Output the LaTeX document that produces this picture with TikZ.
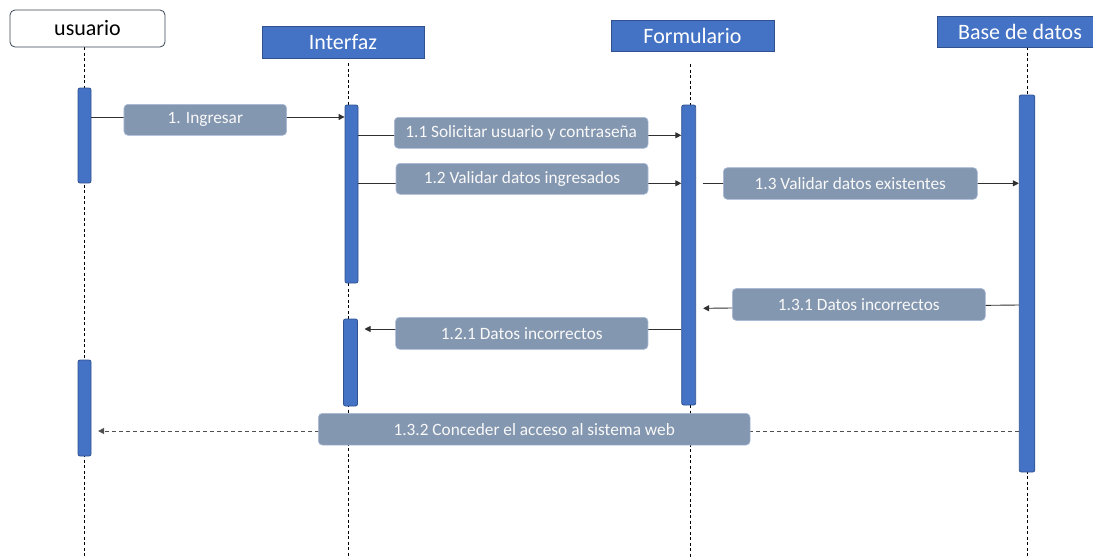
\documentclass[tikz,border=0pt]{standalone}
\usepackage{fontspec}
\setmainfont{Carlito}
\usetikzlibrary{arrows.meta,backgrounds}
\definecolor{hblue}{HTML}{4472C4}
\definecolor{hborder}{HTML}{2F528F}
\definecolor{lgray}{HTML}{8497B0}
\definecolor{lborder}{HTML}{A9B9D6}
\definecolor{uborder}{HTML}{3A4656}
\definecolor{msgline}{HTML}{303030}
\tikzset{
  header/.style={draw=hborder, line width=0.8pt, fill=hblue, text=white, inner sep=0pt, font=\fontsize{22}{26}\selectfont},
  actor/.style={draw=uborder, line width=0.8pt, fill=white, rounded corners=5pt, inner sep=0pt, font=\fontsize{22}{26}\selectfont},
  actbar/.style={draw=hborder, line width=0.8pt, fill=hblue, rounded corners=2pt, inner sep=0pt},
  msglabel/.style={draw=lborder, line width=0.6pt, fill=lgray, text=white!95!gray, rounded corners=4pt, inner sep=0pt, font=\fontsize{17.3}{20}\selectfont},
  lifeline/.style={draw=black, line width=0.8pt, dash pattern=on 3pt off 2.5pt},
  msg/.style={draw=msgline, line width=0.9pt, -{Triangle[length=6pt,width=6pt]}},
  retmsg/.style={draw=msgline!85, line width=0.9pt, dash pattern=on 4pt off 3pt, -{Triangle[length=6pt,width=6pt]}}
}
\begin{document}
\begin{tikzpicture}[x=1pt,y=-1pt]
\useasboundingbox (0,0) rectangle (1093,558);
% headers
\node[actor, minimum width=155pt, minimum height=37pt] (usr) at (87.5,28.5) {usuario};
\node[header, minimum width=162pt, minimum height=32pt] (inf) at (343,42) {Interfaz};
\node[header, minimum width=163pt, minimum height=31pt] (frm) at (692.5,35.5) {Formulario};
\node[header, minimum width=166pt, minimum height=31pt] (bdd) at (1020,31.5) {Base de datos};
% lifeline ends
\coordinate (usrS) at (84,47);
\coordinate (usrE) at (84,558);
\coordinate (infS) at (348,63);
\coordinate (infE) at (348,558);
\coordinate (frmS) at (690,64);
\coordinate (frmE) at (690,558);
\coordinate (bddS) at (1027,47);
\coordinate (bddE) at (1027,558);
% activation bars
\node[actbar, minimum width=13pt, minimum height=95pt] (ub1) at (84.5,135.5) {};
\node[actbar, minimum width=13pt, minimum height=96pt] (ub2) at (84.5,408) {};
\node[actbar, minimum width=13pt, minimum height=178pt] (ib1) at (351.5,194) {};
\node[actbar, minimum width=14pt, minimum height=87pt] (ib2) at (350.5,362.5) {};
\node[actbar, minimum width=14pt, minimum height=300pt] (fb) at (688.7,255) {};
\node[actbar, minimum width=15.5pt, minimum height=377pt] (db) at (1027,283.5) {};
% lifelines behind
\begin{scope}[on background layer]
\draw[lifeline] (usrS) -- (usrE);
\draw[lifeline] (infS) -- (infE);
\draw[lifeline] (frmS) -- (frmE);
\draw[lifeline] (bddS) -- (bddE);
\end{scope}
% message heights
\coordinate (y1) at (0,117);
\coordinate (y11) at (0,135.3);
\coordinate (y12) at (0,183.3);
\coordinate (y13) at (0,183.3);
\coordinate (y131a) at (0,305);
\coordinate (y131b) at (0,308.3);
\coordinate (y121) at (0,329);
\coordinate (y132) at (0,431);
% messages
\draw[msg] (ub1.east |- y1) -- (ib1.west |- y1);
\draw[msg] (ib1.east |- y11) -- (fb.west |- y11);
\draw[msg] (ib1.east |- y12) -- (fb.west |- y12);
\draw[msg] ([xshift=6.5pt]fb.east |- y13) -- (db.west |- y13);
\draw[msg] (db.west |- y131a) -- ([xshift=7pt]fb.east |- y131b);
\draw[msg] (fb.west |- y121) -- ([xshift=6.6pt]ib2.east |- y121);
\draw[retmsg] (db.west |- y132) -- ([xshift=6.7pt]ub2.east |- y132);
% labels
\node[msglabel, minimum width=162.7pt, minimum height=31pt] (l1) at (205.3,119.8) {1. Ingresar};
\node[msglabel, minimum width=253.7pt, minimum height=31pt] (l11) at (521.2,132.8) {1.1 Solicitar usuario y contraseña};
\node[msglabel, minimum width=252pt, minimum height=31pt] (l12) at (522,178.8) {1.2 Validar datos ingresados};
\node[msglabel, minimum width=254pt, minimum height=31.6pt] (l13) at (850.3,183.5) {1.3 Validar datos existentes};
\node[msglabel, minimum width=253pt, minimum height=32pt] (l131) at (858.8,304.5) {1.3.1 Datos incorrectos};
\node[msglabel, minimum width=252.3pt, minimum height=32pt] (l121) at (521.8,333.3) {1.2.1 Datos incorrectos};
\node[msglabel, minimum width=431.7pt, minimum height=31.7pt] (l132) at (534.2,429.2) {1.3.2 Conceder el acceso al sistema web};
\end{tikzpicture}
\end{document}
